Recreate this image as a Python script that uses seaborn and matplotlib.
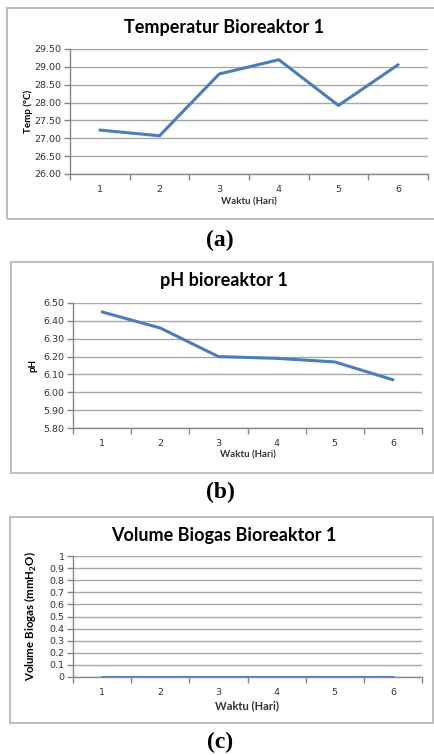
#!/usr/bin/env python3
"""
plot.py - temperature, pH and biogas volume of bioreaktor 1 (three stacked panels)
"""

import matplotlib
matplotlib.use('Agg')
import matplotlib.pyplot as plt
from matplotlib.patches import Rectangle
import seaborn as sns
import numpy as np

# Data
days = [1, 2, 3, 4, 5, 6]
temp_values = [27.23, 27.07, 28.80, 29.20, 27.92, 29.06]
ph_values = [6.45, 6.36, 6.20, 6.19, 6.17, 6.07]
biogas_values = [0, 0, 0, 0, 0, 0]

temp_ticks = [26.0, 26.5, 27.0, 27.5, 28.0, 28.5, 29.0, 29.5]
ph_ticks = [5.8, 5.9, 6.0, 6.1, 6.2, 6.3, 6.4, 6.5]
biogas_ticks = [0, 0.1, 0.2, 0.3, 0.4, 0.5, 0.6, 0.7, 0.8, 0.9, 1]

LINE_COLOR = '#4A7EBB'
GRID_COLOR = '#A6A6A6'
AXIS_COLOR = '#868686'
TEXT_COLOR = '#333333'
FRAME_COLOR = '#BFBFBF'

W, H = 435, 755


def setup_style():
    sns.set_style("white")
    plt.rcParams.update({
        'font.family': ['Lato', 'DejaVu Sans'],
        'figure.facecolor': 'white',
        'mathtext.fontset': 'custom',
        'mathtext.rm': 'Lato:bold',
        'mathtext.bf': 'Lato:bold',
    })


def box(px_left, px_top, px_right, px_bottom):
    """pixel box -> figure fraction rect"""
    return [px_left / W, 1 - px_bottom / H, (px_right - px_left) / W, (px_bottom - px_top) / H]


def draw_panel(fig, rect, values, yticks, fmt, title, title_y, ylabel, ylabel_x,
               xlabel_y, frame, caption, caption_y, title_size=13, label_size=7,
               ylabel_size=7):
    fx0, fy0, fx1, fy1 = frame
    fig.patches.append(Rectangle((fx0 / W, 1 - fy1 / H), (fx1 - fx0) / W, (fy1 - fy0) / H,
                                 transform=fig.transFigure, fill=False,
                                 edgecolor=FRAME_COLOR, linewidth=1.5))

    ax = fig.add_axes(rect)
    sns.lineplot(x=days, y=values, ax=ax, color=LINE_COLOR, linewidth=2.2)

    ax.set_xlim(0.5, 6.5)
    ax.set_ylim(yticks[0], yticks[-1])
    ax.set_yticks(yticks)
    ax.set_yticklabels([fmt(v) for v in yticks])
    ax.set_xticks(np.arange(0.5, 7, 1))
    ax.set_xticklabels([])
    ax.set_xticks(days, minor=True)
    ax.set_xticklabels([str(d) for d in days], minor=True)

    ax.grid(True, axis='y', color=GRID_COLOR, linewidth=1)
    ax.set_axisbelow(True)
    for side in ['top', 'right']:
        ax.spines[side].set_visible(False)
    for side in ['left', 'bottom']:
        ax.spines[side].set_color(AXIS_COLOR)
        ax.spines[side].set_linewidth(1)

    ax.tick_params(axis='y', which='major', direction='out', length=4, width=1,
                   color=AXIS_COLOR, labelsize=6.8, labelcolor=TEXT_COLOR, pad=2, left=True)
    ax.tick_params(axis='x', which='major', direction='out', length=4, width=1,
                   color=AXIS_COLOR, bottom=True)
    ax.tick_params(axis='x', which='minor', length=0, labelsize=6.8,
                   labelcolor=TEXT_COLOR, pad=8)
    for lab in ax.get_yticklabels() + ax.get_xticklabels(minor=True):
        lab.set_family('DejaVu Sans')

    ax.set_xlabel('')
    ax.set_ylabel('')
    cx = (fx0 + fx1) / 2 / W
    fig.text(cx + 0.005, 1 - title_y / H, title, ha='center', va='center',
             fontsize=title_size, fontweight='bold', color='black')
    left_px = rect[0] * W
    right_px = (rect[0] + rect[2]) * W
    fig.text((left_px + right_px) / 2 / W, 1 - xlabel_y / H, 'Waktu (Hari)',
             ha='center', va='center', fontsize=label_size, fontweight='bold', color=TEXT_COLOR)
    mid_y = 1 - (rect[1] + rect[3] / 2)
    fig.text(ylabel_x / W, 1 - mid_y, ylabel, ha='center', va='center', rotation=90,
             fontsize=ylabel_size, fontweight='bold', color='black')
    fig.text(220 / W, 1 - caption_y / H, caption, ha='center', va='center',
             fontsize=17, fontweight='bold', family='Liberation Serif', color='black')
    return ax


def main():
    setup_style()
    fig = plt.figure(figsize=(W / 100, H / 100), dpi=100)

    draw_panel(fig, box(70, 49, 428, 174), temp_values, temp_ticks,
               lambda v: f'{v:.2f}', 'Temperatur Bioreaktor 1', 27,
               'Temp (°C)', 28, 202, (7, 8, 437, 219), '(a)', 240)

    draw_panel(fig, box(73, 303, 422, 428), ph_values, ph_ticks,
               lambda v: f'{v:.2f}', 'pH bioreaktor 1', 281,
               'pH', 33, 455, (11, 262, 433, 473), '(b)', 492)

    draw_panel(fig, box(73, 556, 422, 677), biogas_values, biogas_ticks,
               lambda v: f'{v:g}', 'Volume Biogas Bioreaktor 1', 536,
               r'Volume Biogas (mmH$_\mathregular{2}$O)', 31, 706, (10, 517, 433, 723),
               '(c)', 742, label_size=8, ylabel_size=8.3)

    plt.savefig('out.png', dpi=100, facecolor='white')
    plt.close()


if __name__ == "__main__":
    main()
